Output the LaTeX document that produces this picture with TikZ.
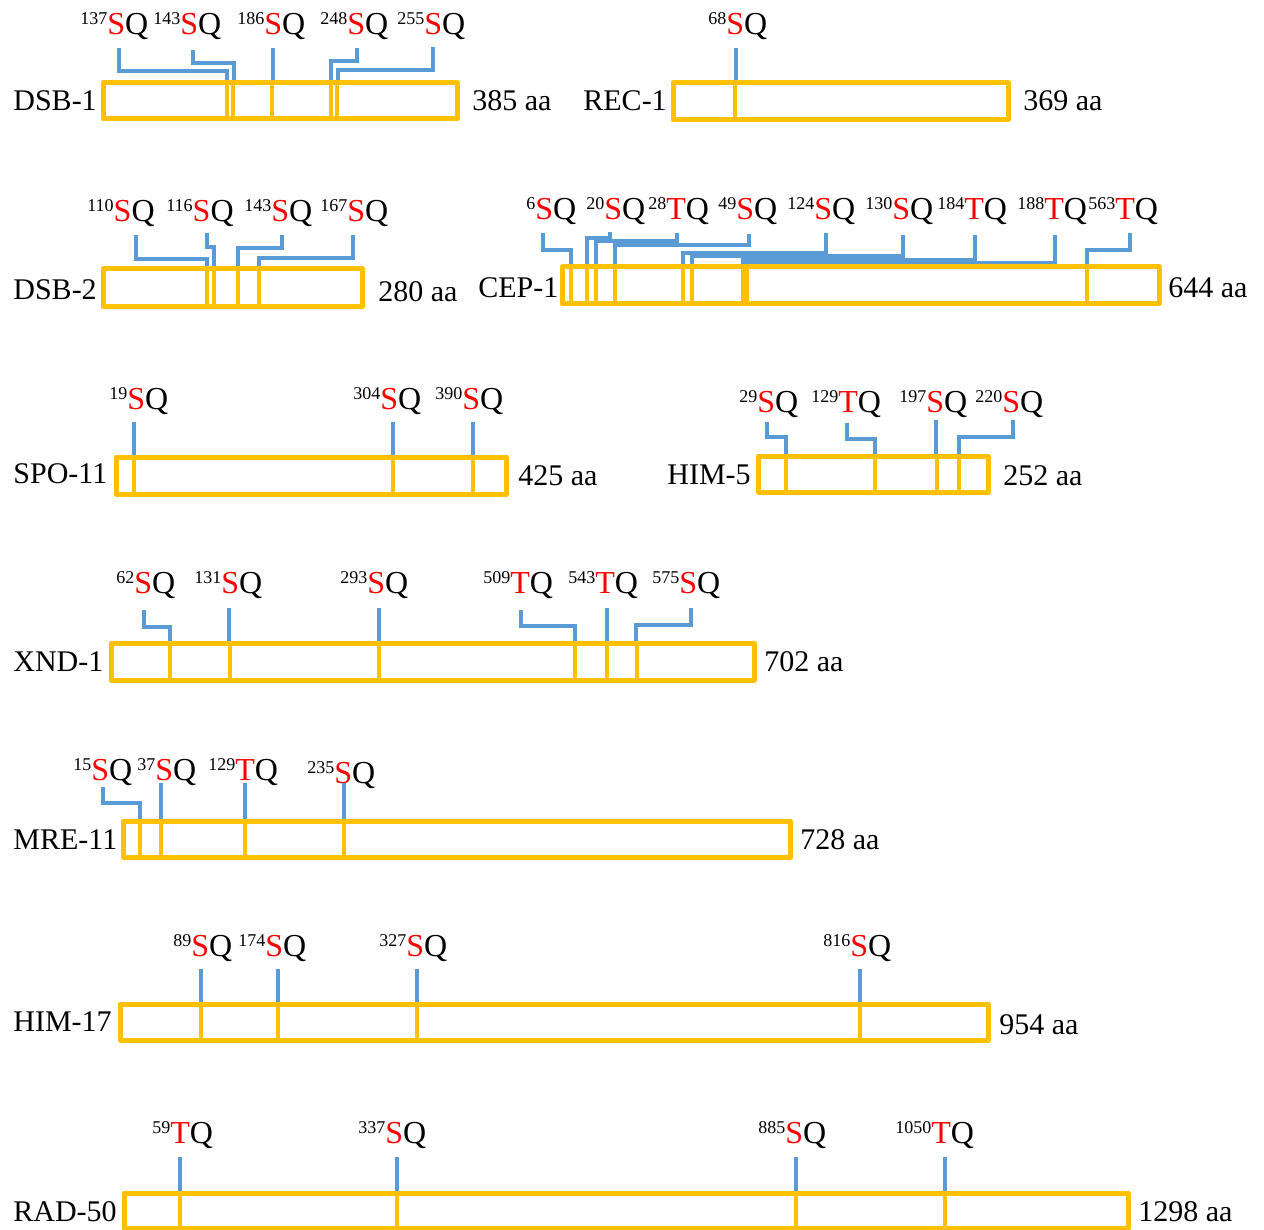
\documentclass[tikz,border=0pt]{standalone}
\usepackage{fontspec}
\setmainfont{Liberation Serif}
\definecolor{barorange}{HTML}{FFC000}
\definecolor{tickblue}{HTML}{5B9BD5}
\newcommand{\motif}[2]{\raisebox{5pt}{\fontsize{9}{9}\selectfont #1}\textcolor{red}{#2}Q}
\begin{document}
\begin{tikzpicture}[x=0.5pt, y={(0pt,-0.5pt)},
    bar/.style={draw=barorange, line width=2.5pt, line join=round},
    cut/.style={draw=barorange, line width=2pt},
    tick/.style={draw=tickblue, line width=2pt},
    prot/.style={anchor=west, inner sep=0pt, font=\fontsize{15}{18}\selectfont},
    site/.style={anchor=base west, inner sep=0pt, font=\fontsize{16}{18}\selectfont}]
    \path[use as bounding box, fill=white] (0,0) rectangle (1264,1230);

    \node[prot] (dsb1) at (13,101) {DSB-1};
    \node[site] (d1a) at (80,35) {\motif{137}{S}};
    \node[site] (d1b) at (153,35) {\motif{143}{S}};
    \node[site] (d1c) at (237,35) {\motif{186}{S}};
    \node[site] (d1d) at (320,35) {\motif{248}{S}};
    \node[site] (d1e) at (397,35) {\motif{255}{S}};
    \draw[tick] (119,48) |- (227,71) -- (227,83);
    \draw[tick] (193,50) |- (234,63) -- (234,83);
    \draw[tick] (273,48) -- (273,83);
    \draw[tick] (357,48) |- (331,61) -- (331,83);
    \draw[tick] (433,47) |- (338,70) -- (338,83);
    \draw[bar] (103,83) rectangle (457,119);
    \foreach \x in {227,233,272,331,337} \draw[cut] (\x,83) -- (\x,119);
    \node[prot] (dsb1len) at (472,101) {385 aa};

    \node[prot] (rec1) at (583,101) {REC-1};
    \node[site] (r1a) at (708,35) {\motif{68}{S}};
    \draw[tick] (736,48) -- (736,83);
    \draw[bar] (673,83) rectangle (1008,120);
    \draw[cut] (735,83) -- (735,120);
    \node[prot] (rec1len) at (1023,101) {369 aa};

    \node[prot] (dsb2) at (13,290) {DSB-2};
    \node[site] (d2a) at (87,222) {\motif{110}{S}};
    \node[site] (d2b) at (166,222) {\motif{116}{S}};
    \node[site] (d2c) at (244,222) {\motif{143}{S}};
    \node[site] (d2d) at (320,222) {\motif{167}{S}};
    \draw[tick] (136,235) |- (207,259) -- (207,269);
    \draw[tick] (207,233) |- (214,247) -- (214,269);
    \draw[tick] (282,235) |- (238,248) -- (238,269);
    \draw[tick] (353,235) |- (259,258) -- (259,269);
    \draw[bar] (103,269) rectangle (362,307);
    \foreach \x in {207,214,238,259} \draw[cut] (\x,269) -- (\x,307);
    \node[prot] (dsb2len) at (378,292) {280 aa};

    \node[prot] (cep1) at (478,288) {CEP-1};
    \node[site] (c1a) at (526,220) {\motif{6}{S}};
    \node[site] (c1b) at (586,220) {\motif{20}{S}};
    \node[site] (c1c) at (648,220) {\motif{28}{T}};
    \node[site] (c1d) at (718,220) {\motif{49}{S}};
    \node[site] (c1e) at (787,220) {\motif{124}{S}};
    \node[site] (c1f) at (865,220) {\motif{130}{S}};
    \node[site] (c1g) at (937,220) {\motif{184}{T}};
    \node[site] (c1h) at (1017,220) {\motif{188}{T}};
    \node[site] (c1i) at (1088,220) {\motif{563}{T}};
    \draw[tick] (543,233) |- (571,250) -- (571,267);
    \draw[tick] (610,232) |- (587,238) -- (587,267);
    \draw[tick] (677,233) |- (596,241) -- (596,267);
    \draw[tick] (749,234) |- (615,245) -- (615,267);
    \draw[tick] (826,233) |- (683,253) -- (683,267);
    \draw[tick] (903,235) |- (692,256) -- (692,267);
    \draw[tick] (975,235) |- (743,260) -- (743,267);
    \draw[tick] (1055,235) |- (747,263) -- (747,267);
    \draw[tick] (1130,233) |- (1087,250) -- (1087,267);
    \draw[bar] (562,267) rectangle (1159,304);
    \foreach \x in {571,587,596,615,683,692,743,747,1087} \draw[cut] (\x,267) -- (\x,304);
    \node[prot] (cep1len) at (1168,288) {644 aa};

    \node[prot] (spo11) at (13,474) {SPO-11};
    \node[site] (s1a) at (109,409) {\motif{19}{S}};
    \node[site] (s1b) at (353,409) {\motif{304}{S}};
    \node[site] (s1c) at (435,409) {\motif{390}{S}};
    \foreach \x in {134,393,473} \draw[tick] (\x,422) -- (\x,457);
    \draw[bar] (116,457) rectangle (506,494);
    \foreach \x in {134,393,473} \draw[cut] (\x,457) -- (\x,494);
    \node[prot] (spo11len) at (518,476) {425 aa};

    \node[prot] (him5) at (667,475) {HIM-5};
    \node[site] (h5a) at (739,412) {\motif{29}{S}};
    \node[site] (h5b) at (811,412) {\motif{129}{T}};
    \node[site] (h5c) at (899,412) {\motif{197}{S}};
    \node[site] (h5d) at (975,412) {\motif{220}{S}};
    \draw[tick] (767,422) |- (786,437) -- (786,456);
    \draw[tick] (847,423) |- (875,439) -- (875,456);
    \draw[tick] (936,420) -- (936,456);
    \draw[tick] (1013,420) |- (959,437) -- (959,456);
    \draw[bar] (758,456) rectangle (988,492);
    \foreach \x in {786,875,937,959} \draw[cut] (\x,456) -- (\x,492);
    \node[prot] (him5len) at (1003,476) {252 aa};

    \node[prot] (xnd1) at (13,662) {XND-1};
    \node[site] (x1a) at (116,593) {\motif{62}{S}};
    \node[site] (x1b) at (194,593) {\motif{131}{S}};
    \node[site] (x1c) at (340,593) {\motif{293}{S}};
    \node[site] (x1d) at (483,593) {\motif{509}{T}};
    \node[site] (x1e) at (568,593) {\motif{543}{T}};
    \node[site] (x1f) at (652,593) {\motif{575}{S}};
    \draw[tick] (144,610) |- (170,627) -- (170,643);
    \draw[tick] (229,608) -- (229,643);
    \draw[tick] (379,608) -- (379,643);
    \draw[tick] (521,610) |- (575,626) -- (575,643);
    \draw[tick] (607,608) -- (607,643);
    \draw[tick] (691,608) |- (636,625) -- (636,643);
    \draw[bar] (111,643) rectangle (754,680);
    \foreach \x in {170,230,379,575,607,637} \draw[cut] (\x,643) -- (\x,680);
    \node[prot] (xnd1len) at (764,662) {702 aa};

    \node[prot] (mre11) at (13,840) {MRE-11};
    \node[site] (m1a) at (73,780) {\motif{15}{S}};
    \node[site] (m1b) at (137,780) {\motif{37}{S}};
    \node[site] (m1c) at (208,780) {\motif{129}{T}};
    \node[site] (m1d) at (307,783) {\motif{235}{S}};
    \draw[tick] (103,787) |- (140,803) -- (140,821);
    \foreach \x in {161,245,344} \draw[tick] (\x,783) -- (\x,821);
    \draw[bar] (123,821) rectangle (790,857);
    \foreach \x in {140,161,245,344} \draw[cut] (\x,821) -- (\x,857);
    \node[prot] (mre11len) at (800,840) {728 aa};

    \node[prot] (him17) at (13,1022) {HIM-17};
    \node[site] (h17a) at (173,956) {\motif{89}{S}};
    \node[site] (h17b) at (238,956) {\motif{174}{S}};
    \node[site] (h17c) at (379,956) {\motif{327}{S}};
    \node[site] (h17d) at (823,956) {\motif{816}{S}};
    \foreach \x in {201,278,417,860} \draw[tick] (\x,969) -- (\x,1004);
    \draw[bar] (120,1004) rectangle (988,1040);
    \foreach \x in {201,278,417,860} \draw[cut] (\x,1004) -- (\x,1040);
    \node[prot] (him17len) at (999,1025) {954 aa};

    \node[prot] (rad50) at (13,1212) {RAD-50};
    \node[site] (r50a) at (152,1143) {\motif{59}{T}};
    \node[site] (r50b) at (358,1143) {\motif{337}{S}};
    \node[site] (r50c) at (758,1143) {\motif{885}{S}};
    \node[site] (r50d) at (895,1143) {\motif{1050}{T}};
    \foreach \x in {180,397,796,945} \draw[tick] (\x,1157) -- (\x,1193);
    \draw[bar] (124,1193) rectangle (1128,1228);
    \foreach \x in {180,397,796,945} \draw[cut] (\x,1193) -- (\x,1228);
    \node[prot] (rad50len) at (1138,1212) {1298 aa};
\end{tikzpicture}
\end{document}
